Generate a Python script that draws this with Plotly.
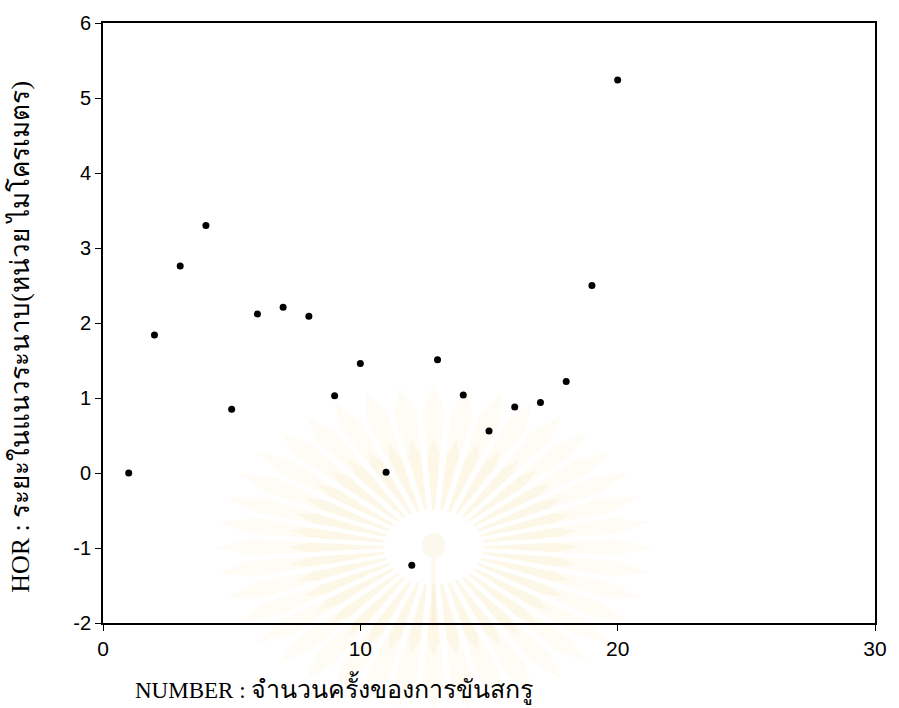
import math
import plotly.graph_objects as go

# Screw-tightening trial number and horizontal displacement (micrometres)
number = [1, 2, 3, 4, 5, 6, 7, 8, 9, 10, 11, 12, 13, 14, 15, 16, 17, 18, 19, 20]
hor = [0.00, 1.84, 2.76, 3.30, 0.85, 2.12, 2.21, 2.09, 1.03, 1.46,
       0.01, -1.23, 1.51, 1.04, 0.56, 0.88, 0.94, 1.22, 2.50, 5.24]

x_ticks = [0, 10, 20, 30]
y_ticks = [-2, -1, 0, 1, 2, 3, 4, 5, 6]
y_tick_text = ["-2", "-1", "0", "1", "2", "3", "4", "5", "6"]

x_title_latin = "NUMBER : "
x_title_thai = "จำนวนครั้งของการขันสกรู"
y_title_latin = "HOR : "
y_title_thai = "ระยะในแนวระนาบ(หน่วย ไมโครเมตร)"

W, H = 899, 708
L, R, T, B = 103, 16, 21, 85
pw, ph = W - L - R, H - T - B


def px(xp, yp):
    """Pixel position -> paper coordinates."""
    return (xp - L) / pw, (H - B - yp) / ph


fig = go.Figure()
fig.add_trace(go.Scatter(
    x=number, y=hor, mode="markers",
    marker=dict(symbol="circle", size=7, color="black"),
    showlegend=False, hoverinfo="x+y",
))

# faint sunburst emblem printed behind the plot
cx, cy = 437, 547
n_rays = 40
shapes = []


def ray_path(a, r0, r1, r2, da_in, da_out):
    pts = []
    for ang, r in [(a - da_in, r0), (a - da_out, r1), (a, r2), (a + da_out, r1), (a + da_in, r0)]:
        xp = cx + r * math.cos(ang) * 1.05
        yp = cy - r * math.sin(ang) * 0.78
        pts.append(px(xp, yp))
    return "M " + " L ".join(f"{u:.4f},{v:.4f}" for u, v in pts) + " Z"


for k in range(n_rays):
    a = 2 * math.pi * k / n_rays
    # outer, paler part of each ray
    shapes.append(dict(type="path", path=ray_path(a, 48, 175, 210, 0.028, 0.06),
                       xref="paper", yref="paper",
                       fillcolor="rgba(250,232,180,0.14)", line=dict(width=0), layer="below"))
    # inner, slightly stronger part
    shapes.append(dict(type="path", path=ray_path(a, 48, 120, 140, 0.028, 0.05),
                       xref="paper", yref="paper",
                       fillcolor="rgba(248,226,165,0.16)", line=dict(width=0), layer="below"))
# small emblem in the centre
u0, v0 = px(cx - 12, cy - 14)
u1, v1 = px(cx + 12, cy + 10)
shapes.append(dict(type="circle", xref="paper", yref="paper", x0=u0, y0=v1, x1=u1, y1=v0,
                   fillcolor="rgba(245,232,200,0.3)", line=dict(width=0), layer="below"))
u0, v0 = px(cx - 2, cy + 10)
u1, v1 = px(cx + 2, cy + 80)
shapes.append(dict(type="rect", xref="paper", yref="paper", x0=u0, y0=v1, x1=u1, y1=v0,
                   fillcolor="rgba(245,232,200,0.3)", line=dict(width=0), layer="below"))

axis_common = dict(
    showgrid=False, zeroline=False,
    showline=True, linecolor="black", linewidth=1.8, mirror=True,
    ticks="outside", ticklen=6, tickwidth=1.2, tickcolor="black",
)
tick_family = "Liberation Sans, Arial, sans-serif"

fig.update_xaxes(range=[0, 30], tickvals=x_ticks,
                 tickfont=dict(family=tick_family, size=21, color="black"), **axis_common)
fig.update_yaxes(range=[-2, 6], tickvals=y_ticks, ticktext=y_tick_text,
                 tickfont=dict(family=tick_family, size=20, color="black"), **axis_common)

title_family = "Liberation Serif, Times New Roman, serif"
xu, xv = px(133, 688)
fig.add_annotation(
    text=f"{x_title_latin}<span style='font-size:25px'>{x_title_thai}</span>",
    xref="paper", yref="paper", x=xu, y=xv,
    xanchor="left", yanchor="middle", showarrow=False,
    font=dict(family=title_family, size=23, color="black"),
)
yu, yv = px(19, 336)
fig.add_annotation(
    text=f"{y_title_latin}<span style='font-size:26px'>{y_title_thai}</span>",
    xref="paper", yref="paper", x=yu, y=yv,
    xanchor="center", yanchor="middle", textangle=-90, showarrow=False,
    font=dict(family=title_family, size=26, color="black"),
)

fig.update_layout(
    width=W, height=H,
    margin=dict(l=L, r=R, t=T, b=B),
    paper_bgcolor="white", plot_bgcolor="white",
    shapes=shapes,
)

fig.write_html("out.html")
